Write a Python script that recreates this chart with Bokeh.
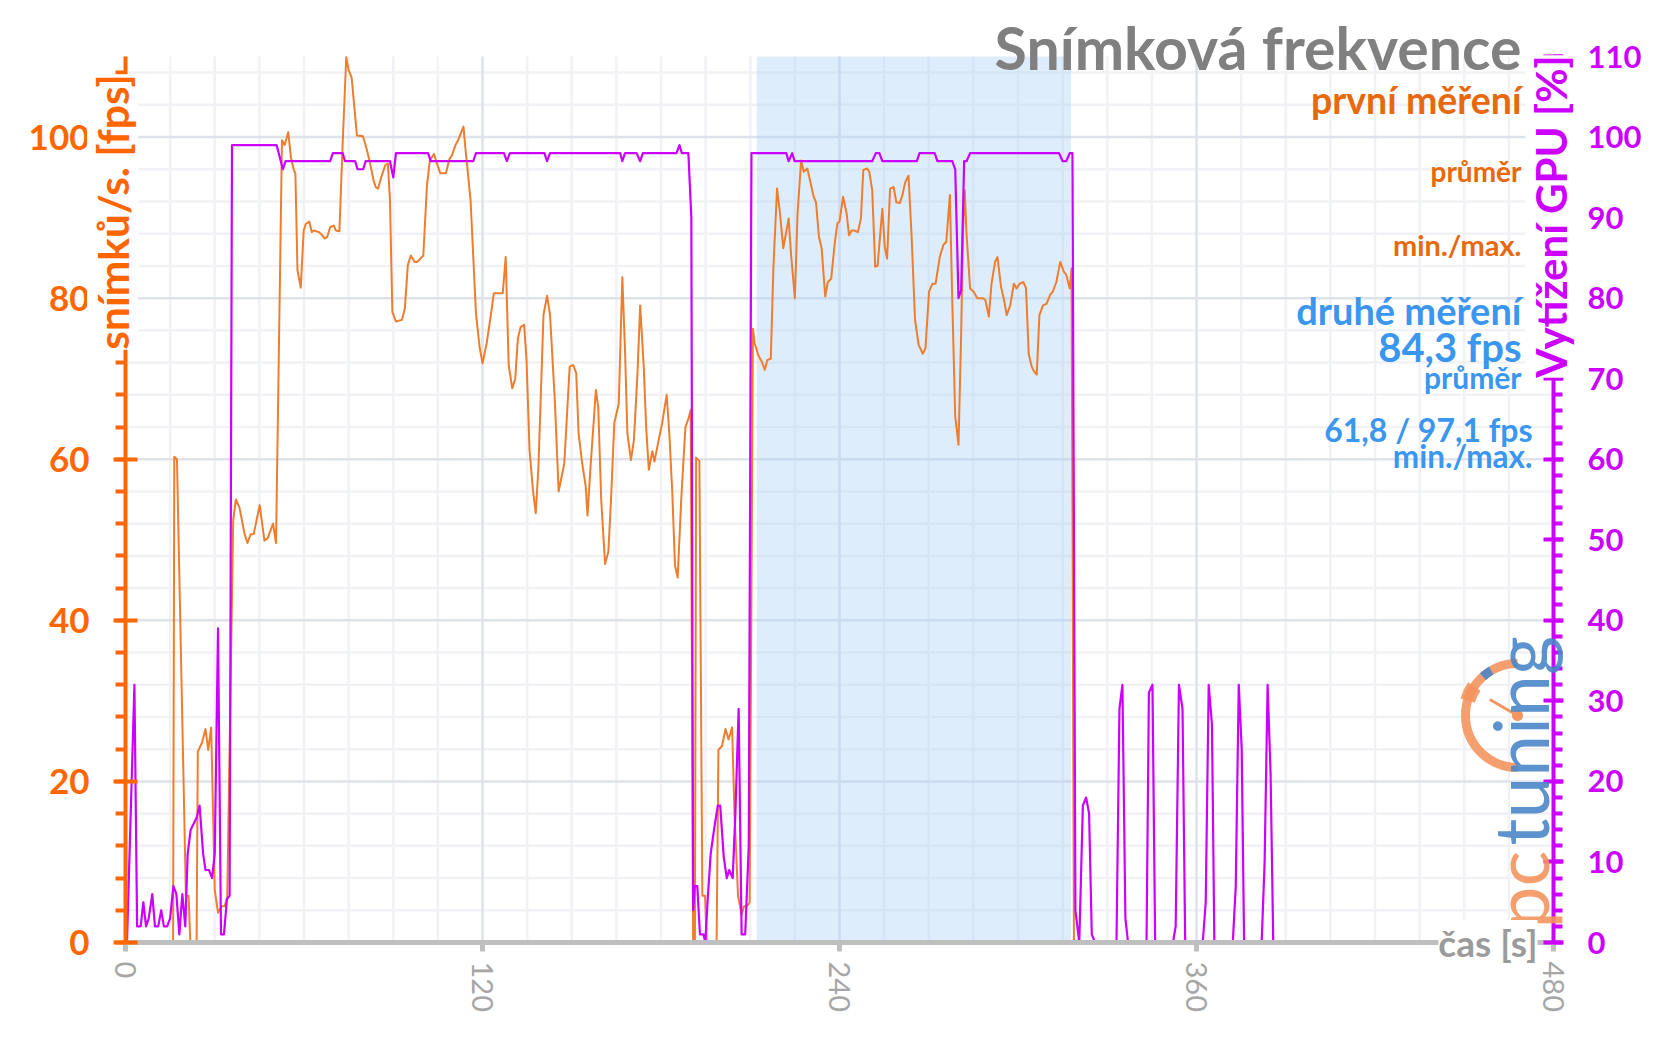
import numpy as np
from bokeh.plotting import figure
from bokeh.models import Range1d, LinearAxis, FixedTicker, Label
from bokeh.embed import file_html
from bokeh.resources import INLINE

# ---- data -------------------------------------------------------------
fps_t = [0, 16.0, 16.4, 17.3, 20.3, 21.2, 21.8, 23.9, 24.3, 25.7, 26.9, 27.8, 28.8, 30.0, 31.1, 32.3, 33.3, 34.2,
         36.2, 37.1, 38.3, 40.1, 41.0, 42.1, 43.1, 45.1, 46.7, 47.8, 49.6, 50.6, 52.6, 53.5, 54.7, 55.6, 56.6, 57.1,
         57.8, 58.9, 59.9, 60.6, 61.8, 62.6, 63.3, 65.0, 65.9, 67.0, 67.8, 68.8, 70.0, 70.7, 71.9, 73.0, 74.2, 75.0,
         76.0, 77.8, 79.8, 81.0, 82.0, 83.4, 84.1, 84.9, 85.8, 87.3, 88.2, 88.9, 89.7, 90.9, 92.9, 93.9, 94.9, 95.9,
         97.2, 98.1, 100.1, 101.3, 102.3, 103.7, 104.7, 105.8, 107.7, 108.9, 109.7, 110.9, 111.8, 113.6, 114.2, 116.0,
         117.8, 119.0, 120.0, 121.4, 122.8, 123.8, 125.6, 126.8, 127.8, 128.8, 130.0, 131.0, 131.9, 132.8, 134.0,
         134.8, 135.8, 137.0, 137.9, 138.8, 140.5, 141.7, 142.7, 144.3, 145.6, 147.5, 149.3, 150.5, 151.5, 152.3,
         153.5, 154.7, 155.3, 156.3, 157.5, 158.1, 158.9, 159.9, 161.2, 162.3, 163.2, 164.3, 165.8, 167.0, 167.9,
         168.7, 169.9, 170.9, 172.1, 173.0, 174.2, 175.0, 175.9, 177.1, 177.8, 179.0, 180.4, 181.9, 182.8, 183.8,
         184.7, 185.6, 186.8, 188.2, 189.2, 190.0, 190.8, 191.4, 191.8, 192.9, 193.9, 194.8, 195.4, 198.7, 199.3,
         200.5, 201.7, 202.7, 203.9, 204.7, 205.9, 207.1, 207.9, 208.9, 209.8, 210.9, 211.5, 212.7, 213.9, 214.9,
         215.7, 216.9, 217.8, 219.0, 219.9, 221.1, 222.9, 223.7, 225.0, 225.9, 227.1, 228.0, 229.2, 230.1, 231.3,
         232.1, 233.1, 234.0, 235.2, 236.1, 237.2, 238.4, 239.3, 240.0, 241.2, 242.4, 243.2, 244.1, 245.0, 246.2,
         247.2, 248.0, 249.2, 250.0, 251.0, 252.0, 252.8, 254.4, 255.2, 256.0, 257.0, 258.2, 259.1, 260.3, 261.2,
         262.1, 263.2, 264.2, 265.4, 266.6, 268.0, 268.9, 270.1, 271.3, 272.3, 273.7, 274.9, 275.9, 277.1, 277.9,
         278.9, 280.0, 280.9, 281.5, 282.1, 282.7, 283.9, 285.1, 286.3, 288.1, 289.0, 290.2, 291.1, 292.3, 293.1,
         294.3, 295.3, 296.2, 297.4, 298.6, 299.5, 300.6, 301.8, 302.7, 303.6, 304.6, 305.4, 306.3, 307.2, 308.4,
         309.6, 310.8, 311.7, 312.9, 314.2, 315.4, 316.2, 317.4, 318.0, 318.8, 386.0]
fps_v = [0, 0, 60.3, 60, 5.8, 5.8, 0, 0, 23.7, 24.8, 26.5, 23.9, 26.7, 6.5, 3.7, 4.5, 4.5, 5.6,
         52.4, 55, 54, 50.6, 49.6, 50.7, 50.7, 54.3, 49.9, 50.2, 52, 49.6, 99.6, 99, 100.6, 97.5, 95.9, 95.5,
         83.5, 81.3, 88.4, 89.2, 89.5, 88.2, 88.4, 88.2, 87.9, 87.4, 87.6, 88.8, 89, 88.4, 88.3, 99.2, 109.9, 108.3,
         107.4, 100.2, 100.1, 98.6, 97.1, 94.6, 93.8, 93.6, 94.8, 96.5, 96.7, 92.1, 78.3, 77.1, 77.3, 78.7, 84.1, 85.3,
         84.5, 84.5, 85.3, 93.8, 97.1, 97.9, 96.7, 95.5, 95.5, 97.3, 97.7, 99, 99.6, 101.3, 98.8, 92.1,
         78.1, 74, 71.9, 74.4, 77.9, 80.6, 80.6, 80.6, 85.1, 71.7, 68.8, 70, 75, 76.4, 76.7,
         72.3, 61.2, 56, 53.3, 59, 77.9, 80.3, 77.9, 67.4, 56, 59.5, 71.5, 71.7, 70.7, 63.2,
         59.5, 56.6, 53, 59, 65.3, 68.6, 66.5, 55, 47, 48.5, 55, 64.5, 66.9, 82.6, 73.6,
         63.2, 59.9, 62.4, 70.7, 79.1, 71.5, 64, 58.7, 61, 59.7, 62, 64.5, 68, 63.2, 55.8,
         46.8, 45.3, 55, 64, 65, 66.1, 0, 0, 60.2, 59.8, 5.8, 5.8, 0, 0, 23.9,
         24.4, 26.5, 25.2, 26.7, 16, 5.8, 3.4, 4.5, 4.5, 5, 76.2, 74.4, 72.9, 72.1, 71.1,
         72.3, 72.5, 83.9, 93.6, 90.9, 86.2, 89.9, 85.5, 80, 90.5, 97.1, 95.7, 96.1, 94.6, 92.6,
         91.9, 87.6, 86.2, 80.2, 82, 82.4, 86.8, 89.3, 89.5, 92.6, 90.5, 87.8, 88.4, 88.4, 88.2,
         89.9, 95.9, 96.1, 95.7, 93.4, 83.9, 84, 91.1, 86.4, 84.9, 93.6, 93.8, 91.9, 91.8, 92.9,
         94.4, 95.2, 88, 77.3, 74.2, 73.1, 73.8, 80.8, 81.8, 81.8, 85.1, 86.6, 87, 92.8, 79.8,
         65.3, 61.8, 75.6, 88, 93.4, 88, 81.2, 80.8, 80, 80, 79.8, 77.7, 81.8, 84.5, 85.1,
         81.4, 79.8, 77.9, 79.1, 81.8, 81.2, 81.8, 82, 81.2, 73.1, 71.5, 70.9, 70.5, 77.9, 79.1,
         79.3, 80.4, 80.8, 82, 84.5, 83.3, 82.9, 81.2, 83.7, 0, 0]

gpu_t = [0.5, 3.0, 3.9, 5.1, 6.0, 6.9, 7.8, 9.0, 9.9, 11.0, 12.0, 12.9, 14.0, 15.0, 16.1, 17.1, 18.1, 19.1, 20.1,
         20.9, 21.9, 23.9, 24.9, 26.1, 26.9, 28.1, 29.1, 30.0, 31.1, 32.1, 33.1, 34.1, 35.0, 35.8, 50.8, 52.9,
         53.8, 68.8, 69.7, 73.0, 73.8, 77.2, 78.0, 79.9, 80.7, 88.9, 90.0, 90.9, 101.7, 102.6, 116.9, 117.8, 127.2,
         128.2, 129.2, 140.8, 141.7, 142.7, 166.3, 167.0, 167.9, 171.8, 173.0, 173.9, 185.2, 186.2, 187.0, 189.2,
         190.2, 190.8, 191.3, 192.2, 193.1, 194.3, 194.9, 195.7, 196.7, 197.9, 199.1, 199.9, 201.1, 202.1, 202.9,
         204.1, 205.0, 206.1, 207.1, 208.3, 209.5, 210.4, 222.1, 222.9, 224.1, 224.9, 251.0, 252.2, 253.4, 254.4,
         266.0, 266.9, 272.0, 272.9, 277.9, 278.9, 280.0, 280.9, 281.9, 282.7, 283.9, 313.8, 315.0, 316.2, 317.4,
         318.3, 319.3, 320.6, 321.8, 322.9, 323.9, 324.8, 325.9, 333.1, 334.1, 335.1, 336.1, 337.0, 343.2, 344.0,
         345.2, 346.1, 352.1, 353.0, 354.1, 355.3, 356.2, 362.1, 363.1, 364.1, 365.2, 366.0, 372.2, 373.2, 374.2,
         375.2, 376.0, 381.9, 382.9, 383.9, 384.9, 385.8, 390.0]
gpu_v = [0, 32, 2, 2, 5, 2, 3, 6, 2, 2, 4, 2, 2, 3, 7, 6, 1, 6, 2,
         11, 14, 15.5, 17, 11, 9, 9, 8, 11, 39, 1, 1, 5.4, 5.8, 99, 99, 96,
         97, 97, 98, 98, 97, 97, 96, 96, 97, 97, 95, 98, 98, 97, 97, 98, 98,
         97, 98, 98, 97, 98, 98, 97, 98, 98, 97, 98, 98, 99, 98, 98,
         90, 4, 7, 7, 1, 1, 0, 5.4, 11, 14.2, 17, 17, 10.6, 8, 9,
         8, 16, 29, 1, 1, 12, 98, 98, 97, 98, 97, 97, 98, 98, 97,
         97, 98, 98, 97, 97, 96, 80, 81, 97, 97, 98, 98, 97, 97, 98,
         98, 4, 0, 17, 18, 16, 1, 0, 0, 29, 32, 3, 0, 0, 31,
         32, 0, 0, 2, 32, 29, 0, 0, 5, 32, 27, 0, 0, 7, 32,
         24, 0, 0, 10, 32, 21, 0, 0]

band_start = [212.2]
band_end = [317.8]

x_ticks = [0, 120, 240, 360, 480]
x_minor = list(range(0, 481, 15))
fps_ticks = [0, 20, 40, 60, 80, 100]
fps_minor = list(range(0, 111, 4))
gpu_ticks = list(range(0, 111, 10))
gpu_minor = list(range(0, 111, 2))

X_MAX = 480
Y_MAX = 110

ORANGE_AX = "#FF6600"
ORANGE_LINE = "#EE7D2E"
ORANGE_TXT = "#E8680C"
PURPLE = "#CC00FF"
BLUE_TXT = "#3A96EE"
GREY = "#A6A6A6"
FONT = "Lato"

# ---- layout: frame covers the whole canvas, axes placed at fixed locations
W, H = 1656, 1044
FL, FR, FT, FB = 125, 1553, 56, 942            # pixel box of the data area
sx = (FR - FL) / X_MAX
sy = (FB - FT) / Y_MAX
def dx(px):
    return (px - FL) / sx
def dy(py):
    return (FB - py) / sy

p = figure(width=W, height=H, x_range=Range1d(dx(0), dx(W)), y_range=Range1d(dy(H), dy(0)),
           output_backend="svg", toolbar_location=None, title_location=None,
           min_border_left=0, min_border_right=0, min_border_top=0, min_border_bottom=0)
p.outline_line_color = None
p.background_fill_color = "white"
p.border_fill_color = "white"
p.extra_y_ranges = {"gpu": Range1d(dy(H), dy(0))}
p.xgrid.visible = False
p.ygrid.visible = False

# x axis
xa = p.xaxis[0]
xa.ticker = FixedTicker(ticks=x_ticks, minor_ticks=x_minor)
xa.fixed_location = 0
xa.bounds = (0, X_MAX)
xa.axis_line_color = "#BFBFBF"
xa.axis_line_width = 5
xa.major_tick_line_color = "#BFBFBF"
xa.major_tick_line_width = 5
xa.major_tick_in = 0
xa.major_tick_out = 9
xa.minor_tick_line_color = None
xa.major_label_orientation = "vertical"
xa.major_label_text_color = GREY
xa.major_label_text_font = FONT
xa.major_label_text_font_size = "29px"
xa.major_label_standoff = 10

# left axis (fps)
ya = p.yaxis[0]
ya.ticker = FixedTicker(ticks=fps_ticks, minor_ticks=fps_minor)
ya.fixed_location = 0
ya.bounds = (0, Y_MAX)
ya.axis_line_color = ORANGE_AX
ya.axis_line_width = 4
ya.major_tick_line_color = ORANGE_AX
ya.major_tick_line_width = 4
ya.major_tick_in = 12
ya.major_tick_out = 12
ya.minor_tick_line_color = ORANGE_AX
ya.minor_tick_line_width = 4
ya.minor_tick_in = 0
ya.minor_tick_out = 10
ya.major_label_text_color = ORANGE_AX
ya.major_label_text_font = FONT
ya.major_label_text_font_style = "bold"
ya.major_label_text_font_size = "35px"
ya.major_label_standoff = 24

# right axis (GPU %)
ra = LinearAxis(y_range_name="gpu", ticker=FixedTicker(ticks=gpu_ticks, minor_ticks=gpu_minor))
ra.fixed_location = X_MAX
ra.bounds = (0, Y_MAX)
ra.axis_line_color = PURPLE
ra.axis_line_width = 4
ra.major_tick_line_color = PURPLE
ra.major_tick_line_width = 4
ra.major_tick_in = 10
ra.major_tick_out = 10
ra.minor_tick_line_color = PURPLE
ra.minor_tick_line_width = 4
ra.minor_tick_in = 0
ra.minor_tick_out = 9
ra.major_label_text_color = PURPLE
ra.major_label_text_font = FONT
ra.major_label_text_font_style = "bold"
ra.major_label_text_font_size = "31px"
ra.major_label_standoff = 24
p.add_layout(ra, "right")

# grid lines (bounded to the data area)
xmin_lines = [v for v in x_minor if v not in x_ticks]
ymin_lines = [v for v in fps_minor if v not in fps_ticks]
p.segment(x0=xmin_lines, y0=[0] * len(xmin_lines), x1=xmin_lines, y1=[Y_MAX] * len(xmin_lines),
          line_color="#F1F2F5", line_width=2.5)
p.segment(x0=[0] * len(ymin_lines), y0=ymin_lines, x1=[X_MAX] * len(ymin_lines), y1=ymin_lines,
          line_color="#F1F2F5", line_width=2.5)
p.segment(x0=x_ticks, y0=[0] * len(x_ticks), x1=x_ticks, y1=[Y_MAX] * len(x_ticks),
          line_color="#DEE2EA", line_width=2.5)
p.segment(x0=[0] * len(fps_ticks), y0=fps_ticks, x1=[X_MAX] * len(fps_ticks), y1=fps_ticks,
          line_color="#DEE2EA", line_width=2.5)

# highlighted band
p.quad(left=band_start, right=band_end, bottom=[0], top=[Y_MAX],
       fill_color="#A8D0F5", fill_alpha=0.38, line_color=None)

# series
p.line(fps_t, fps_v, line_color=ORANGE_LINE, line_width=2, line_join="round")
p.line(gpu_t, gpu_v, y_range_name="gpu", line_color=PURPLE, line_width=2.2, line_join="round")

# logo (pctuning gauge)
LOGO_C = "#F4945E"
LOGO_B = "#4A86C8"
gx, gy = dx(1517), dy(715)
p.arc(x=[gx], y=[gy], radius=52, radius_units="screen", start_angle=np.pi / 2, end_angle=3 * np.pi / 2,
      line_color=LOGO_C, line_width=9, line_alpha=0.9)
p.arc(x=[gx], y=[gy], radius=52, radius_units="screen", start_angle=2.55, end_angle=2.85,
      line_color=LOGO_C, line_width=15, line_alpha=0.9)
p.arc(x=[gx], y=[gy], radius=52, radius_units="screen", start_angle=2.1, end_angle=2.3,
      line_color=LOGO_B, line_width=9, line_alpha=0.9)
p.ray(x=[gx], y=[gy], length=32, length_units="screen", angle=2.62, line_color=LOGO_C, line_width=3)
p.scatter(x=[gx], y=[gy], size=11, fill_color=LOGO_C, line_color=None)

MID = 0.387   # distance from baseline to text middle, in em

def lab(px, base_py, text, size, color, style="bold", align="right", angle=0, bg=None, middle=False, alpha=1.0):
    cy = base_py if middle else base_py - MID * size
    l = Label(x=dx(px), y=dy(cy), text=text, text_font=FONT, text_font_size=f"{size}px",
              text_font_style=style, text_color=color, text_alpha=alpha, text_align=align,
              text_baseline="middle", angle=angle)
    if bg:
        l.background_fill_color = bg
        l.background_fill_alpha = 1.0
    p.add_layout(l)
    return l

lab(1519, 928, "pc", 75, LOGO_C, style="normal", align="left", angle=np.pi / 2, middle=True, alpha=0.9)
lab(1519, 845, "tuning", 75, LOGO_B, style="normal", align="left", angle=np.pi / 2, middle=True, alpha=0.9)

# texts
lab(1521, 70, "Snímková frekvence", 59, "#808080")
lab(1521, 114, "první měření", 37.5, ORANGE_TXT)
lab(1521, 181.6, "průměr", 28, ORANGE_TXT)
lab(1521, 255.6, "min./max.", 29, ORANGE_TXT)
lab(1521, 324, "druhé měření", 38, BLUE_TXT)
lab(1521, 362, "84,3 fps", 40, BLUE_TXT)
lab(1521, 388.6, "průměr", 30, BLUE_TXT)
lab(1532, 441, "61,8 / 97,1 fps", 32, BLUE_TXT)
lab(1532, 468, "min./max.", 31.5, BLUE_TXT)

# axis titles
lab(112, 211.5, "snímků/s. [fps]", 42.5, ORANGE_AX, align="center", angle=np.pi / 2, bg="white", middle=True)
lab(1550, 216, "Vytížení GPU [%]", 42, PURPLE, align="center", angle=np.pi / 2, bg="white", middle=True)
lab(1537, FB, "čas [s]", 37, "#9B9B9B", align="right", bg="white", middle=True)

open("out.html", "w").write(file_html(p, INLINE))
